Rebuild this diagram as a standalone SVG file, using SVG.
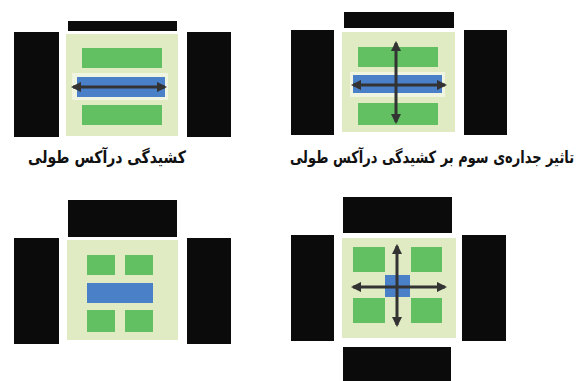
<svg xmlns="http://www.w3.org/2000/svg" width="578" height="381" viewBox="0 0 578 381">
<style>
.wall{fill:#0b0b0b}
.slab{fill:#e0ebc4}
.halo{fill:#f0f5e2}
.green{fill:#62bf62}
.blue{fill:#4a80c8}
.arr{stroke:#333333;stroke-width:3;fill:none;marker-start:url(#ah);marker-end:url(#ah)}
.lbl{font-family:"DejaVu Sans","Noto Sans",sans-serif;font-weight:bold;fill:#111}
</style>
<defs>
<marker id="ah" viewBox="0 0 10 10" refX="8" refY="5" markerWidth="3.5" markerHeight="3.5" orient="auto-start-reverse" markerUnits="strokeWidth">
<path d="M0,0 L10,5 L0,10 Z" fill="#333333"/>
</marker>
</defs>
<rect width="578" height="381" fill="#ffffff"/>

<g id="panel1">
<rect class="wall" x="68" y="21" width="109" height="10"/>
<rect class="wall" x="14" y="32" width="45" height="105"/>
<rect class="wall" x="187" y="32" width="44" height="105"/>
<rect class="slab" x="66" y="34" width="112" height="102"/>
<rect class="green" x="82" y="48" width="80" height="20"/>
<rect class="halo" x="72" y="73" width="96" height="27"/>
<rect class="blue" x="77" y="77" width="88" height="20"/>
<rect class="green" x="82" y="105" width="80" height="20"/>
<text class="lbl" x="28" y="163" font-size="17" textLength="158" lengthAdjust="spacingAndGlyphs">کشیدگی درآکس طولی</text>
</g>

<g id="panel2">
<rect class="wall" x="344" y="12" width="110" height="16"/>
<rect class="wall" x="291" y="30" width="43" height="105"/>
<rect class="wall" x="464" y="30" width="43" height="105"/>
<rect class="slab" x="342" y="32" width="113" height="100"/>
<rect class="green" x="358" y="47" width="80" height="20"/>
<rect class="halo" x="350" y="72" width="95" height="25"/>
<rect class="blue" x="353" y="75" width="89" height="18"/>
<rect class="green" x="358" y="103" width="80" height="22"/>
<text class="lbl" transform="translate(432,163) scale(1,1.3)" x="0" y="0" font-size="13" text-anchor="middle">تاثیر جداره‌ی سوم بر کشیدگی درآکس طولی</text>
</g>

<g id="panel3">
<rect class="wall" x="68" y="200" width="109" height="37"/>
<rect class="wall" x="14" y="238" width="45" height="106"/>
<rect class="wall" x="187" y="238" width="44" height="106"/>
<rect class="slab" x="67" y="240" width="111" height="100"/>
<rect class="green" x="87" y="255" width="28" height="20"/>
<rect class="green" x="125" y="255" width="28" height="20"/>
<rect class="blue" x="87" y="283" width="66" height="20"/>
<rect class="green" x="87" y="310" width="28" height="22"/>
<rect class="green" x="125" y="310" width="28" height="22"/>
</g>

<g id="panel4">
<rect class="wall" x="343" y="197" width="109" height="36"/>
<rect class="wall" x="291" y="235" width="43" height="106"/>
<rect class="wall" x="462" y="235" width="44" height="106"/>
<rect class="wall" x="343" y="347" width="108" height="34"/>
<rect class="slab" x="342" y="238" width="114" height="100"/>
<rect class="green" x="353" y="247" width="32" height="25"/>
<rect class="green" x="411" y="247" width="31" height="25"/>
<rect class="green" x="353" y="298" width="32" height="25"/>
<rect class="green" x="411" y="298" width="31" height="25"/>
<rect class="blue" x="385" y="275" width="25" height="22"/>
</g>

<g id="connectors">
<line class="arr" x1="73" y1="87" x2="165" y2="87"/>
<line class="arr" x1="353" y1="85" x2="445" y2="85"/>
<line class="arr" x1="396" y1="43" x2="396" y2="122"/>
<line class="arr" x1="353" y1="287" x2="445" y2="287"/>
<line class="arr" x1="397" y1="246" x2="397" y2="325"/>
</g>
</svg>
